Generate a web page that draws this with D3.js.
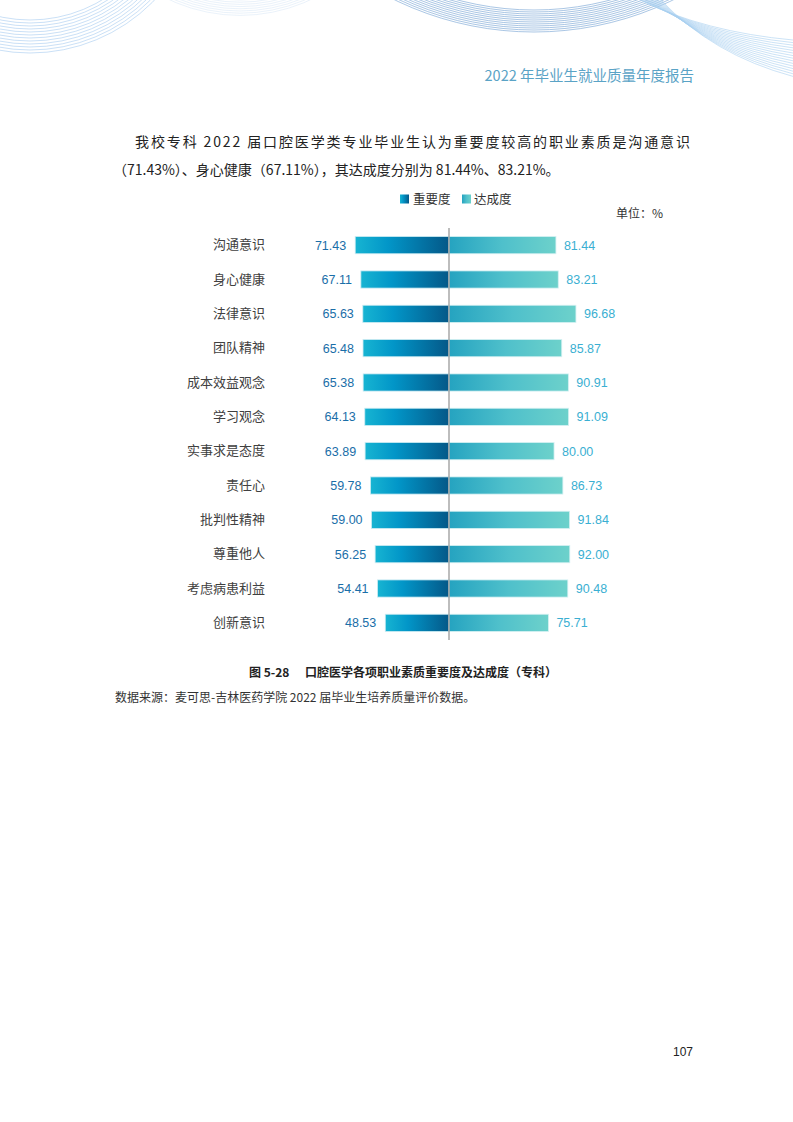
<!DOCTYPE html>
<html>
<head>
<meta charset="utf-8">
<script src="https://cdn.jsdelivr.net/npm/d3@7"></script>
<style>
  body { margin: 0; background: #fff; }
  svg { display: block; }
</style>
</head>
<body>
<script>
// chart data
const categories = ["沟通意识", "身心健康", "法律意识", "团队精神", "成本效益观念", "学习观念",
                    "实事求是态度", "责任心", "批判性精神", "尊重他人", "考虑病患利益", "创新意识"];
const importance = [71.43, 67.11, 65.63, 65.48, 65.38, 64.13, 63.89, 59.78, 59.00, 56.25, 54.41, 48.53];
const achievement = [81.44, 83.21, 96.68, 85.87, 90.91, 91.09, 80.00, 86.73, 91.84, 92.00, 90.48, 75.71];
const seriesNames = ["重要度", "达成度"];

const W = 793, H = 1122;
const cjk = "'Noto Sans CJK SC', 'Noto Sans', sans-serif";
const num = "'Liberation Sans', 'Noto Sans', sans-serif";

const svg = d3.select("body")
  .append("svg")
  .attr("width", W)
  .attr("height", H);

// gradients
const defs = svg.append("defs");
const gL = defs.append("linearGradient").attr("id", "gLeft")
  .attr("x1", "0%").attr("x2", "100%").attr("y1", "0%").attr("y2", "0%");
gL.append("stop").attr("offset", "0%").attr("stop-color", "#17b4d2");
gL.append("stop").attr("offset", "35%").attr("stop-color", "#0296c8");
gL.append("stop").attr("offset", "100%").attr("stop-color", "#045888");
const gR = defs.append("linearGradient").attr("id", "gRight")
  .attr("x1", "0%").attr("x2", "100%").attr("y1", "0%").attr("y2", "0%");
gR.append("stop").attr("offset", "0%").attr("stop-color", "#25a3c0");
gR.append("stop").attr("offset", "50%").attr("stop-color", "#4fc0cb");
gR.append("stop").attr("offset", "100%").attr("stop-color", "#6dd1cb");

// decorative header lines
const deco = svg.append("g").attr("fill", "none");
d3.range(12).forEach(i => {
  deco.append("circle").attr("cx", 30).attr("cy", -120).attr("r", 140 + i * 3)
    .attr("stroke", "#9fc8ee").attr("stroke-width", 0.7).attr("opacity", 0.8);
});
d3.range(8).forEach(i => {
  deco.append("circle").attr("cx", 240).attr("cy", -152).attr("r", 152 + i * 2.2)
    .attr("stroke", "#dbe9f7").attr("stroke-width", 0.6);
});
d3.range(12).forEach(i => {
  deco.append("circle").attr("cx", 534).attr("cy", -286).attr("r", 296 + i * 2)
    .attr("stroke", "#6f9fd2").attr("stroke-width", 0.7).attr("opacity", 0.85);
});
d3.range(15).forEach(i => {
  const p = d3.path();
  p.moveTo(640 + i * 1.5, 0);
  p.quadraticCurveTo(705 + i * 0.5, 32 + i * 1.6, 793, 40 + i * 2.6);
  deco.append("path").attr("d", p.toString())
    .attr("stroke", "#a9d0f0").attr("stroke-width", 0.6);
});

// header
svg.append("text")
  .attr("x", 694).attr("y", 81)
  .attr("text-anchor", "end")
  .style("font-family", cjk).style("font-size", "14.5px")
  .attr("fill", "#5aa3c6")
  .text("2022 年毕业生就业质量年度报告");

// paragraph
svg.append("text")
  .attr("x", 135).attr("y", 147)
  .attr("textLength", 555).attr("lengthAdjust", "spacing")
  .style("font-family", cjk).style("font-size", "14px").attr("fill", "#222")
  .text("我校专科 2022 届口腔医学类专业毕业生认为重要度较高的职业素质是沟通意识");
svg.append("text")
  .attr("x", 113).attr("y", 175)
  .style("font-family", cjk).style("font-size", "14px").attr("fill", "#222")
  .text("（71.43%）、身心健康（67.11%），其达成度分别为 81.44%、83.21%。");

// scales
const cx = 449;
const xLeft = d3.scaleLinear().domain([0, 100]).range([cx, cx - 131.3]);
const xRight = d3.scaleLinear().domain([0, 100]).range([cx, cx + 131.3]);
const y = d3.scaleBand().domain(categories).range([228, 640])
  .paddingInner(0.5).paddingOuter(0.25);

// legend
const legend = svg.append("g");
[["gLeft", 400, 413], ["gRight", 462, 474]].forEach((d, i) => {
  legend.append("rect").attr("x", d[1]).attr("y", 194.5).attr("width", 9).attr("height", 9)
    .attr("fill", `url(#${d[0]})`);
  legend.append("text").attr("x", d[2]).attr("y", 203.5)
    .style("font-family", cjk).style("font-size", "12.5px").attr("fill", "#333")
    .text(seriesNames[i]);
});
svg.append("text").attr("x", 663).attr("y", 218).attr("text-anchor", "end")
  .style("font-family", cjk).style("font-size", "12px").attr("fill", "#333")
  .text("单位：%");

// category axis
const axis = svg.append("g")
  .attr("transform", "translate(265,0)")
  .call(d3.axisLeft(y).tickSize(0).tickPadding(0));
axis.select(".domain").remove();
axis.selectAll("text")
  .style("font-family", cjk).style("font-size", "13px").attr("fill", "#404040");

const rows = categories.map((c, i) => ({ c, imp: importance[i], ach: achievement[i] }));

// bars
svg.append("g").selectAll("rect")
  .data(rows).enter().append("rect")
  .attr("x", d => xLeft(d.imp))
  .attr("y", d => y(d.c))
  .attr("width", d => cx - xLeft(d.imp))
  .attr("height", y.bandwidth())
  .attr("fill", "url(#gLeft)")
  .attr("stroke", "#c9eaf2").attr("stroke-width", 0.8);

svg.append("g").selectAll("rect")
  .data(rows).enter().append("rect")
  .attr("x", cx)
  .attr("y", d => y(d.c))
  .attr("width", d => xRight(d.ach) - cx)
  .attr("height", y.bandwidth())
  .attr("fill", "url(#gRight)")
  .attr("stroke", "#d3f0f2").attr("stroke-width", 0.8);

// value labels
svg.append("g").selectAll("text")
  .data(rows).enter().append("text")
  .attr("x", d => xLeft(d.imp) - 9)
  .attr("y", d => y(d.c) + y.bandwidth() / 2)
  .attr("dy", "0.36em")
  .attr("text-anchor", "end")
  .style("font-family", num).style("font-size", "12.5px").attr("fill", "#1a6ea8")
  .text(d => d.imp.toFixed(2));

svg.append("g").selectAll("text")
  .data(rows).enter().append("text")
  .attr("x", d => xRight(d.ach) + 8)
  .attr("y", d => y(d.c) + y.bandwidth() / 2)
  .attr("dy", "0.36em")
  .style("font-family", num).style("font-size", "12.5px").attr("fill", "#3aafd2")
  .text(d => d.ach.toFixed(2));

// center line
svg.append("line")
  .attr("x1", cx).attr("x2", cx).attr("y1", 228).attr("y2", 640)
  .attr("stroke", "#9a9a9a").attr("stroke-width", 1.3);

// caption and source
svg.append("text").attr("x", 249).attr("y", 677)
  .style("font-family", cjk).style("font-size", "12px").style("font-weight", "bold").attr("fill", "#222")
  .text("图 5-28");
svg.append("text").attr("x", 305).attr("y", 677)
  .style("font-family", cjk).style("font-size", "12px").style("font-weight", "bold").attr("fill", "#222")
  .text("口腔医学各项职业素质重要度及达成度（专科）");
svg.append("text").attr("x", 115).attr("y", 702)
  .style("font-family", cjk).style("font-size", "12px").attr("fill", "#333")
  .text("数据来源：麦可思-吉林医药学院 2022 届毕业生培养质量评价数据。");

// page number
svg.append("text").attr("x", 673).attr("y", 1056)
  .style("font-family", num).style("font-size", "12px").attr("fill", "#222")
  .text("107");
</script>
</body>
</html>
